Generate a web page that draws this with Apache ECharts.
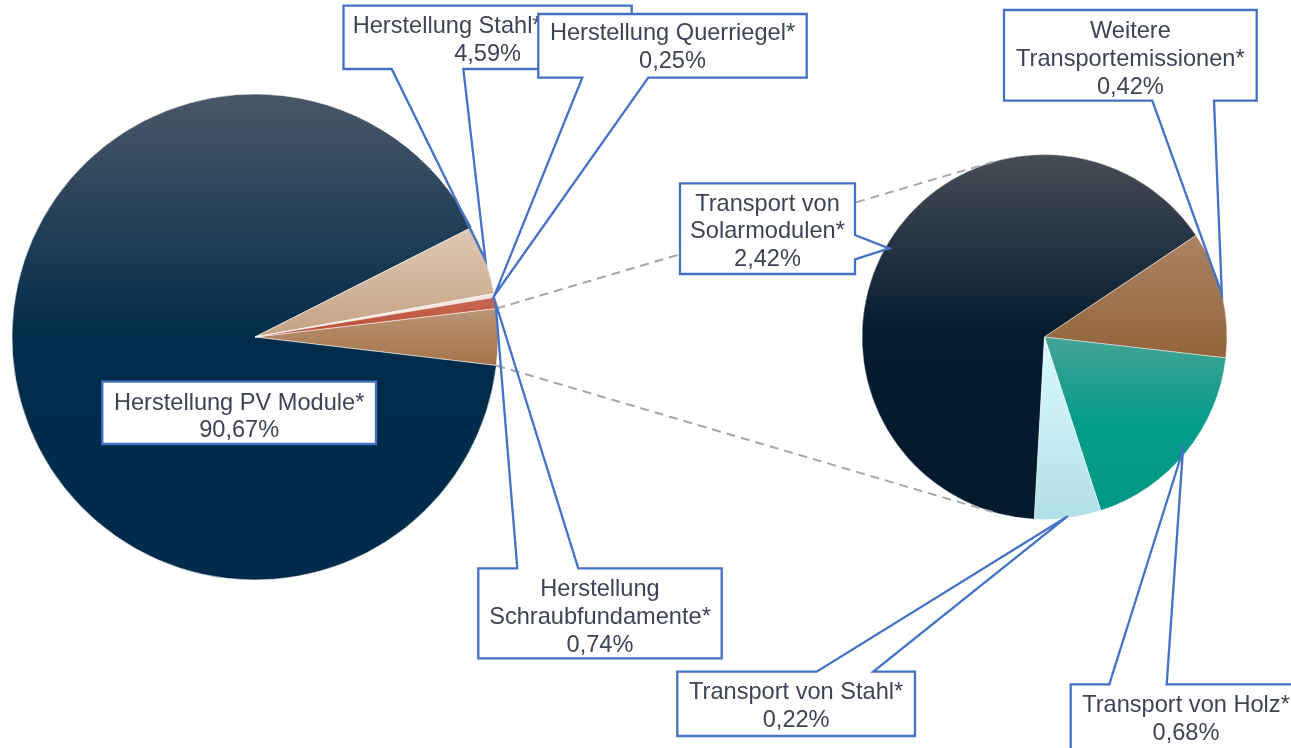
<!DOCTYPE html>
<html>
<head>
<meta charset="utf-8">
<script src="https://cdn.jsdelivr.net/npm/echarts@6/dist/echarts.min.js"></script>
<style>
html,body{margin:0;padding:0;background:#ffffff;}
#c{width:1291px;height:748px;}
</style>
</head>
<body>
<div id="c"></div>
<script>
// ---------- data ----------
const mainCategories = ['Herstellung PV Module*', 'Herstellung Stahl*', 'Herstellung Querriegel*', 'Herstellung\nSchraubfundamente*'];
const mainValues = [90.67, 4.59, 0.25, 0.74];
const transportCategories = ['Transport von\nSolarmodulen*', 'Weitere\nTransportemissionen*', 'Transport von Holz*', 'Transport von Stahl*'];
const transportValues = [2.42, 0.42, 0.68, 0.22];
const otherName = 'Transportemissionen';

// ---------- styles ----------
const g = (stops) => ({type: 'linear', x: 0, y: 0, x2: 0, y2: 1,
  colorStops: stops.map(([o, c]) => ({offset: o, color: c}))});
const mainColors = [
  g([[0, '#4a5767'], [0.5, '#022c4b'], [1, '#002a4a']]),
  g([[0, '#dec8b4'], [1, '#c4a284']]),
  '#f2e6de',
  g([[0, '#c96a55'], [1, '#b94a33']])
];
const otherColor = g([[0, '#ba9576'], [1, '#a5734a']]);
const transportColors = [
  g([[0, '#474d55'], [0.5, '#021b2e'], [1, '#011a2d']]),
  g([[0, '#ab8466'], [1, '#92643a']]),
  g([[0, '#45a395'], [0.5, '#049c8a'], [1, '#009786']]),
  g([[0, '#dcfaff'], [1, '#b1dfe5']])
];
const BLUE = '#4472c4';
const TEXT = '#3d4456';
const FONT = '"Liberation Sans", Arial, Helvetica, sans-serif';
const FS = 23.6, LH = 27.7, TY_SHIFT = 1.5;

const fmt = v => v.toFixed(2).replace('.', ',') + '%';
const flat = s => s.replace(/\n/g, ' ');

const otherSum = transportValues.reduce((a, b) => a + b, 0);
const totalMain = mainValues.reduce((a, b) => a + b, 0) + otherSum;
const leftStart = otherSum / totalMain * 360 / 2;

const leftPie = {center: [255, 337], r: 243};
const rightPie = {center: [1044.5, 337], r: 182.5, start: -93.2};

const option = {
  animation: false,
  backgroundColor: '#ffffff',
  series: [
    {
      type: 'pie', silent: true, avoidLabelOverlap: false,
      center: leftPie.center, radius: leftPie.r,
      startAngle: leftStart, clockwise: true,
      label: {show: false}, labelLine: {show: false}, emphasis: {disabled: true},
      itemStyle: {borderColor: 'rgba(255,255,255,0.75)', borderWidth: 0.7},
      data: [{name: otherName, value: otherSum, itemStyle: {color: otherColor}}]
        .concat(mainValues.map((v, i) => ({name: flat(mainCategories[i]), value: v, itemStyle: {color: mainColors[i]}})))
    },
    {
      type: 'pie', silent: true, avoidLabelOverlap: false,
      center: rightPie.center, radius: rightPie.r,
      startAngle: rightPie.start, clockwise: true,
      label: {show: false}, labelLine: {show: false}, emphasis: {disabled: true},
      itemStyle: {borderColor: 'rgba(255,255,255,0.6)', borderWidth: 0.7},
      data: transportValues.map((v, i) => ({name: flat(transportCategories[i]), value: v, itemStyle: {color: transportColors[i]}}))
    }
  ]
};

const chart = echarts.init(document.getElementById('c'), null, {renderer: 'canvas'});
chart.setOption(option);

// ---------- slice geometry from the library layout ----------
function ownLayout(si, di) {
  const vals = si === 0 ? [otherSum].concat(mainValues) : transportValues;
  const p = si === 0 ? leftPie : rightPie;
  const st = si === 0 ? leftStart : rightPie.start;
  const sum = vals.reduce((a, b) => a + b, 0);
  let a0 = -st * Math.PI / 180;
  for (let i = 0; i < di; i++) a0 += vals[i] / sum * Math.PI * 2;
  const a1 = a0 + vals[di] / sum * Math.PI * 2;
  return {cx: p.center[0], cy: p.center[1], r: p.r, startAngle: a0, endAngle: a1};
}
function layoutOf(si, di) {
  try {
    const l = chart.getModel().getSeriesByIndex(si).getData().getItemLayout(di);
    if (l && isFinite(l.startAngle) && isFinite(l.cx)) return l;
  } catch (e) {}
  return ownLayout(si, di);
}
function tipOf(si, di, k) {
  const l = layoutOf(si, di);
  const m = (l.startAngle + l.endAngle) / 2;
  return [l.cx + l.r * k * Math.cos(m), l.cy + l.r * k * Math.sin(m)];
}

// ---------- callout layout (label boxes) ----------
const callouts = [
  {si: 0, di: 2, cat: mainCategories[1], val: mainValues[1], k: 1.0,
   box: [343.5, 5.7, 631.7, 69], wedge: {side: 'bottom', a: 391.7, b: 463.3}, ty: 39.2, firstLineLeft: 352.7},
  {si: 0, di: 3, cat: mainCategories[2], val: mainValues[2], k: 1.0,
   box: [538.3, 14, 806.7, 77.7], wedge: {side: 'bottom', a: 582.3, b: 648.3}, ty: 45.8},
  {si: 0, di: 4, cat: mainCategories[3], val: mainValues[3], k: 1.0,
   box: [478.3, 568.3, 721.7, 658.3], wedge: {side: 'top', a: 517.3, b: 578.3}, ty: 615.8},
  {si: 0, di: 1, cat: mainCategories[0], val: mainValues[0], k: 1.0,
   box: [102.3, 381.7, 376, 444], wedge: null, ty: 415.5},
  {si: 1, di: 0, cat: transportCategories[0], val: transportValues[0], k: 0.98,
   box: [680, 183.3, 855, 274], wedge: {side: 'right', a: 235, b: 259.3}, ty: 230.2},
  {si: 1, di: 1, cat: transportCategories[1], val: transportValues[1], k: 1.0,
   box: [1004, 10, 1256.7, 100.7], wedge: {side: 'bottom', a: 1152.3, b: 1214}, ty: 58.1},
  {si: 1, di: 2, cat: transportCategories[2], val: transportValues[2], k: 0.98,
   box: [1070.7, 684.3, 1301.3, 760], wedge: {side: 'top', a: 1109.3, b: 1166.7}, ty: 718.3},
  {si: 1, di: 3, cat: transportCategories[3], val: transportValues[3], k: 0.99,
   box: [677.3, 671.7, 915, 736], wedge: {side: 'top', a: 816.7, b: 873.3}, ty: 705}
];

const elements = [];

// dashed connectors: tangents from the split slice edges to the second pie
(function () {
  const lo = layoutOf(0, 0);
  const rp = layoutOf(1, 0);
  [[lo.startAngle, -1], [lo.endAngle, 1]].forEach(([ang, sgn]) => {
    const P = [lo.cx + lo.r * Math.cos(ang), lo.cy + lo.r * Math.sin(ang)];
    const vx = rp.cx - P[0], vy = rp.cy - P[1];
    const d = Math.hypot(vx, vy);
    const base = Math.atan2(vy, vx);
    const alpha = Math.asin(rp.r / d);
    const L = Math.sqrt(d * d - rp.r * rp.r);
    const dir = base + sgn * alpha;
    const T = [P[0] + L * Math.cos(dir), P[1] + L * Math.sin(dir)];
    elements.push({type: 'line', silent: true, z: 5,
      shape: {x1: P[0], y1: P[1], x2: T[0], y2: T[1]},
      style: {stroke: '#a4a7ae', lineWidth: 2, lineDash: [9, 6]}});
  });
})();

callouts.forEach((c, i) => {
  const z = 10 + i * 4;
  const [x1, y1, x2, y2] = c.box;
  const w = c.wedge;
  const tip = tipOf(c.si, c.di, c.k);
  let pts;
  if (!w) pts = [[x1, y1], [x2, y1], [x2, y2], [x1, y2]];
  else if (w.side === 'bottom') pts = [[x1, y1], [x2, y1], [x2, y2], [w.b, y2], tip, [w.a, y2], [x1, y2]];
  else if (w.side === 'top') pts = [[x1, y1], [w.a, y1], tip, [w.b, y1], [x2, y1], [x2, y2], [x1, y2]];
  else pts = [[x1, y1], [x2, y1], [x2, w.a], tip, [x2, w.b], [x2, y2], [x1, y2]];
  elements.push({type: 'rect', silent: true, z: z,
    shape: {x: x1, y: y1, width: x2 - x1, height: y2 - y1}, style: {fill: '#ffffff'}});
  elements.push({type: 'polygon', silent: true, z: z + 1,
    shape: {points: pts}, style: {fill: 'none', stroke: BLUE, lineWidth: 2.3, lineJoin: 'miter'}});
  const cx = (x1 + x2) / 2;
  const ty = c.ty + TY_SHIFT;
  const textStyle = {fill: TEXT, fontSize: FS, fontFamily: FONT, lineHeight: LH, verticalAlign: 'middle'};
  if (c.firstLineLeft != null) {
    elements.push({type: 'text', silent: true, z: z + 2,
      style: Object.assign({}, textStyle, {text: c.cat, x: c.firstLineLeft, y: ty - LH / 2, align: 'left'})});
    elements.push({type: 'text', silent: true, z: z + 2,
      style: Object.assign({}, textStyle, {text: fmt(c.val), x: cx, y: ty + LH / 2, align: 'center'})});
  } else {
    elements.push({type: 'text', silent: true, z: z + 2,
      style: Object.assign({}, textStyle, {text: c.cat + '\n' + fmt(c.val), x: cx, y: ty, align: 'center'})});
  }
});

chart.setOption({graphic: {elements: elements}});
</script>
</body>
</html>
